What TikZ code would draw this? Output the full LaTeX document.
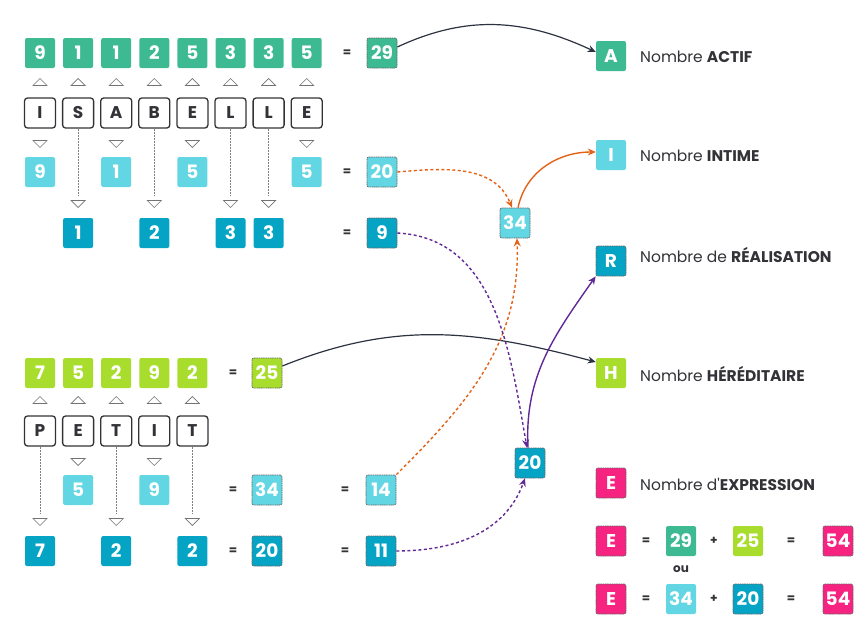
\documentclass[tikz,border=0pt]{standalone}
\usepackage{fontspec}
\setmainfont{Poppins}
\newfontfamily\poppinsplain{Poppins}
\usetikzlibrary{arrows.meta}
\definecolor{cact}{RGB}{61,186,146}
\definecolor{cint}{RGB}{98,214,226}
\definecolor{creal}{RGB}{6,164,196}
\definecolor{cher}{RGB}{168,221,46}
\definecolor{cexp}{RGB}{246,35,129}
\definecolor{corange}{RGB}{228,98,22}
\definecolor{cpurple}{RGB}{98,40,150}
\definecolor{cdark}{RGB}{45,50,65}
\definecolor{ctxt}{RGB}{50,50,55}
\tikzset{
  num/.style={minimum width=30pt,minimum height=30pt,inner sep=0pt,rounded corners=2pt,text=white,font=\bfseries\fontsize{18.5}{18.5}\selectfont},
  act/.style={num,fill=cact},
  int/.style={num,fill=cint},
  real/.style={num,fill=creal},
  her/.style={num,fill=cher},
  expr/.style={num,fill=cexp},
  res/.style={draw=black!60,dash pattern=on 1.2pt off 0.6pt,line width=0.7pt},
  letter/.style={draw=ctxt,line width=1.3pt,rounded corners=3pt,minimum width=31pt,minimum height=30pt,inner sep=0pt,font=\bfseries\fontsize{17}{17}\selectfont,text=ctxt},
  eqs/.style={font=\bfseries\fontsize{12}{12}\selectfont,text=ctxt},
  lbl/.style={anchor=west,inner sep=0pt,font=\fontsize{15.5}{15.5}\selectfont,text=ctxt},
  tri/.style={draw=black!55,line width=0.6pt},
  vline/.style={draw=black!50,line width=1pt,dash pattern=on 1pt off 0.5pt},
  uptri/.pic={\draw[tri] (-7,-3.5) -- (0,3.5) -- (7,-3.5) -- cycle;},
  dntri/.pic={\draw[tri] (-7,3.5) -- (0,-3.5) -- (7,3.5) -- cycle;},
  darr/.style={draw=cdark,line width=1.2pt,-{Stealth[length=8pt,width=7pt]}},
  oarr/.style={draw=corange,line width=1.4pt,-{Stealth[length=8pt,width=7pt]}},
  parr/.style={draw=cpurple,line width=1.4pt,-{Stealth[length=8pt,width=7pt]}},
  dotted line/.style={dash pattern=on 3pt off 2.5pt},
}
\begin{document}
\begin{tikzpicture}[x=1pt,y=1pt]
\useasboundingbox (0,0) rectangle (868,-627);
% ===== ISABELLE =====
\foreach \v [count=\i] in {9,1,1,2,5,3,3,5}
  \node[act] (ga\i) at ({40+38.1*(\i-1)},-53) {\v};
\foreach \l [count=\i] in {I,S,A,B,E,L,L,E}{
  \node[letter] (la\i) at ({40+38.1*(\i-1)},-113) {\l};
  \pic at ({40+38.1*(\i-1)},-82) {uptri};
}
\foreach \i/\v in {1/9,3/1,5/5,8/5}{
  \pic at ({40+38.1*(\i-1)},-144) {dntri};
  \node[int] (ia\i) at ({40+38.1*(\i-1)},-172) {\v};
}
\foreach \i/\v in {2/1,4/2,6/3,7/3}{
  \coordinate (ea\i) at ({40+38.1*(\i-1)},-196);
  \draw[vline] (la\i.south) -- (ea\i);
  \pic at ({40+38.1*(\i-1)},-204) {dntri};
  \node[real] (ra\i) at ({40+38.1*(\i-1)},-233) {\v};
}
\node[eqs] (q1) at (347,-53) {=};
\node[eqs] (q2) at (347,-172) {=};
\node[eqs] (q3) at (347,-233) {=};
\node[act,res] (r29) at (382,-53) {29};
\node[int,res] (r20) at (382,-172) {20};
\node[real,res] (r9) at (382,-233) {9};
% ===== PETIT =====
\foreach \v [count=\i] in {7,5,2,9,2}
  \node[her] (gb\i) at ({40+38.1*(\i-1)},-373) {\v};
\foreach \l [count=\i] in {P,E,T,I,T}{
  \node[letter] (lb\i) at ({40+38.1*(\i-1)},-431) {\l};
  \pic at ({40+38.1*(\i-1)},-400) {uptri};
}
\foreach \i/\v in {2/5,4/9}{
  \pic at ({40+38.1*(\i-1)},-462) {dntri};
  \node[int] (ib\i) at ({40+38.1*(\i-1)},-490) {\v};
}
\foreach \i/\v in {1/7,3/2,5/2}{
  \coordinate (eb\i) at ({40+38.1*(\i-1)},-513);
  \draw[vline] (lb\i.south) -- (eb\i);
  \pic at ({40+38.1*(\i-1)},-522) {dntri};
  \node[real] (rb\i) at ({40+38.1*(\i-1)},-551) {\v};
}
\node[eqs] (q4) at (233,-373) {=};
\node[eqs] (q5) at (233,-490) {=};
\node[eqs] (q6) at (233,-551) {=};
\node[her,res] (r25) at (267,-373) {25};
\node[int,res] (r34) at (267,-490) {34};
\node[real,res] (r20b) at (267,-551) {20};
\node[eqs] (q7) at (345,-490) {=};
\node[eqs] (q8) at (345,-551) {=};
\node[int,res] (r14) at (381,-490) {14};
\node[real,res] (r11) at (381,-551) {11};
% ===== middle =====
\node[int,res] (m34) at (515,-223) {34};
\node[real,res] (m20) at (530,-463) {20};
% ===== right column =====
\node[act] (A) at (611,-56) {A};
\node[lbl] (tA) at (640,-57) {Nombre \textbf{ACTIF}};
\node[int] (I) at (611,-155) {I};
\node[lbl] (tI) at (640,-156) {Nombre \textbf{INTIME}};
\node[real,res] (R) at (611,-261) {R};
\node[lbl] (tR) at (640,-255) {Nombre de \textbf{RÉALISATION}};
\node[her] (H) at (611,-373) {H};
\node[lbl] (tH) at (640,-374) {Nombre \textbf{HÉRÉDITAIRE}};
\node[expr,res] (E) at (611,-483) {E};
\node[lbl] (tE) at (640,-484) {Nombre d{\poppinsplain '}\textbf{EXPRESSION}};
% equations
\node[expr,res] (E1) at (611,-541) {E};
\node[eqs] (e1a) at (646,-541) {=};
\node[act] (e1b) at (681,-541) {29};
\node[eqs] (e1c) at (714,-541) {+};
\node[her] (e1d) at (748,-541) {25};
\node[eqs] (e1e) at (791,-541) {=};
\node[expr,res] (e1f) at (838,-541) {54};
\node[font=\bfseries\fontsize{12}{12}\selectfont,text=ctxt] (ou) at (681,-569) {ou};
\node[expr,res] (E2) at (611,-599) {E};
\node[eqs] (e2a) at (646,-599) {=};
\node[int] (e2b) at (681,-599) {34};
\node[eqs] (e2c) at (714,-599) {+};
\node[real,res] (e2d) at (748,-599) {20};
\node[eqs] (e2e) at (791,-599) {=};
\node[expr,res] (e2f) at (838,-599) {54};
% ===== connectors =====
\draw[darr] ([yshift=6pt]r29.east) to[out=25,in=155] ([yshift=4pt]A.west);
\draw[darr] ([yshift=7pt]r25.east) to[out=22,in=165] ([yshift=11pt]H.west);
\draw[oarr,dotted line] (r20.east) to[out=5,in=112] ([xshift=-3pt]m34.north);
\draw[oarr] ([xshift=3pt]m34.north) to[out=78,in=180] ([yshift=3pt]I.west);
\draw[oarr,dotted line] (r14.north east) to[out=45,in=-88] ([xshift=2pt]m34.south);
\draw[parr,dotted line] (r9.east) to[out=-3,in=100] ([xshift=-3pt]m20.north);
\draw[parr,dotted line] (r11.east) to[out=0,in=-110] ([xshift=-5pt]m20.south);
\draw[parr] ([xshift=-2pt]m20.north) to[out=93,in=-125] (R.south west);
\end{tikzpicture}
\end{document}
